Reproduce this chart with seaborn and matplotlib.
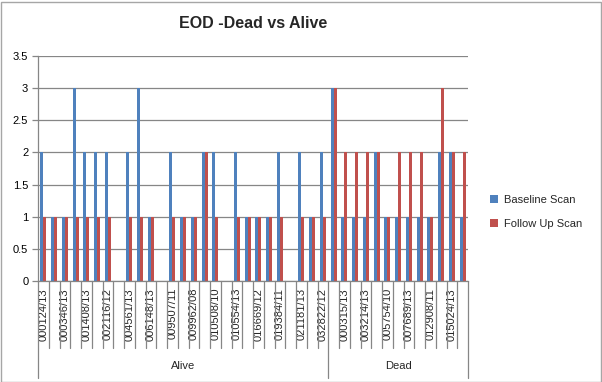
import matplotlib
matplotlib.use("Agg")
import matplotlib.pyplot as plt
import matplotlib.transforms as mtransforms
from matplotlib.patches import Rectangle
import seaborn as sns
import pandas as pd

# ---- data ----
categories = [
    "000124/13", "", "000346/13", "", "001408/13", "", "002116/12", "",
    "004561/13", "", "006148/13", "", "009507/11", "", "009962/08", "",
    "010508/10", "", "010554/13", "", "016669/12", "", "019384/11", "",
    "021181/13", "", "032822/12",
    "", "000315/13", "", "003214/13", "", "005754/10", "", "007689/13", "",
    "012908/11", "", "015024/13", "",
]
groups = ["Alive"] * 27 + ["Dead"] * 13
baseline = [2, 1, 1, 3, 2, 2, 2, 0, 2, 3, 1, 0, 2, 1, 1, 2, 2, 0, 2, 1,
            1, 1, 2, 0, 2, 1, 2,
            3, 1, 1, 1, 2, 1, 1, 1, 1, 1, 2, 2, 1]
follow_up = [1, 1, 1, 1, 1, 1, 1, 0, 1, 1, 1, 0, 1, 1, 1, 2, 1, 0, 1, 1,
             1, 1, 1, 0, 1, 1, 1,
             3, 2, 2, 2, 2, 1, 2, 2, 2, 1, 3, 2, 2]
series_names = ["Baseline Scan", "Follow Up Scan"]
y_ticks = [0, 0.5, 1, 1.5, 2, 2.5, 3, 3.5]
y_tick_labels = ["0", "0.5", "1", "1.5", "2", "2.5", "3", "3.5"]
title = "EOD -Dead vs Alive"

keys = [f"k{i:02d}" for i in range(len(categories))]
df = pd.DataFrame({
    "key": keys * 2,
    "value": baseline + follow_up,
    "series": [series_names[0]] * len(keys) + [series_names[1]] * len(keys),
})

# ---- style ----
sns.set_theme(style="white")
plt.rcParams["font.family"] = ["Liberation Sans", "DejaVu Sans"]
grid_col = "#868686"

fig = plt.figure(figsize=(6.02, 3.82), dpi=100)
ax = fig.add_axes([38 / 602, 101 / 382, 430 / 602, 225 / 382])

sns.barplot(data=df, x="key", y="value", hue="series", order=keys,
            hue_order=series_names, palette=["#4F81BD", "#C0504D"],
            width=0.57, saturation=1, gap=0, edgecolor="none",
            linewidth=0, ax=ax, legend=True, errorbar=None)

ax.set_xlim(-0.5, len(keys) - 0.5)
ax.set_ylim(0, 3.5)
ax.set_yticks(y_ticks)
ax.set_yticklabels(y_tick_labels, fontsize=8, color="black")
ax.yaxis.grid(True, color=grid_col, linewidth=0.9)
ax.set_axisbelow(True)
ax.set_xlabel("")
ax.set_ylabel("")
for s in ["top", "right"]:
    ax.spines[s].set_visible(False)
for s in ["left", "bottom"]:
    ax.spines[s].set_color(grid_col)
    ax.spines[s].set_linewidth(0.9)
ax.tick_params(axis="y", left=True, length=4, width=0.9, color=grid_col, pad=3)

tick_pos = [i for i, c in enumerate(categories) if c]
ax.set_xticks(tick_pos)
ax.set_xticklabels([categories[i] for i in tick_pos], rotation=90,
                   fontsize=8, va="top", ha="center")
ax.tick_params(axis="x", bottom=False, length=0, pad=5)

# category boundary lines and group separators
trans = mtransforms.blended_transform_factory(ax.transData, ax.transAxes)
n = len(keys)
for i in range(n + 1):
    x = i - 0.5
    is_group = i == 0 or i == n or groups[i] != groups[i - 1]
    y_end = -97 / 225 if is_group else -67 / 225
    ax.plot([x, x], [0, y_end], transform=trans, color=grid_col,
            linewidth=0.9, clip_on=False)

# group labels
seen = []
for g in groups:
    if g not in seen:
        seen.append(g)
for g in seen:
    idx = [i for i, gg in enumerate(groups) if gg == g]
    cx = (idx[0] + idx[-1]) / 2
    ax.text(cx, -85 / 225, g, transform=trans, ha="center", va="center",
            fontsize=8)

# legend
leg = ax.legend(loc="center left",
                bbox_to_anchor=((488 - 38) / 430 - 0.018, (281 - 212) / 225),
                frameon=False, fontsize=8, handlelength=0.7,
                handleheight=0.7, handletextpad=0.5, labelspacing=1.25,
                title=None)

fig.suptitle(title, x=253 / 602, y=1 - 23 / 382, va="center",
             fontsize=11.5, fontweight="bold")

fig.patches.append(Rectangle((0.5 / 602, 0.5 / 382), 600 / 602, 380 / 382,
                             transform=fig.transFigure, fill=False,
                             edgecolor="#A6A6A6", linewidth=1))

fig.savefig("out.png", dpi=100)
